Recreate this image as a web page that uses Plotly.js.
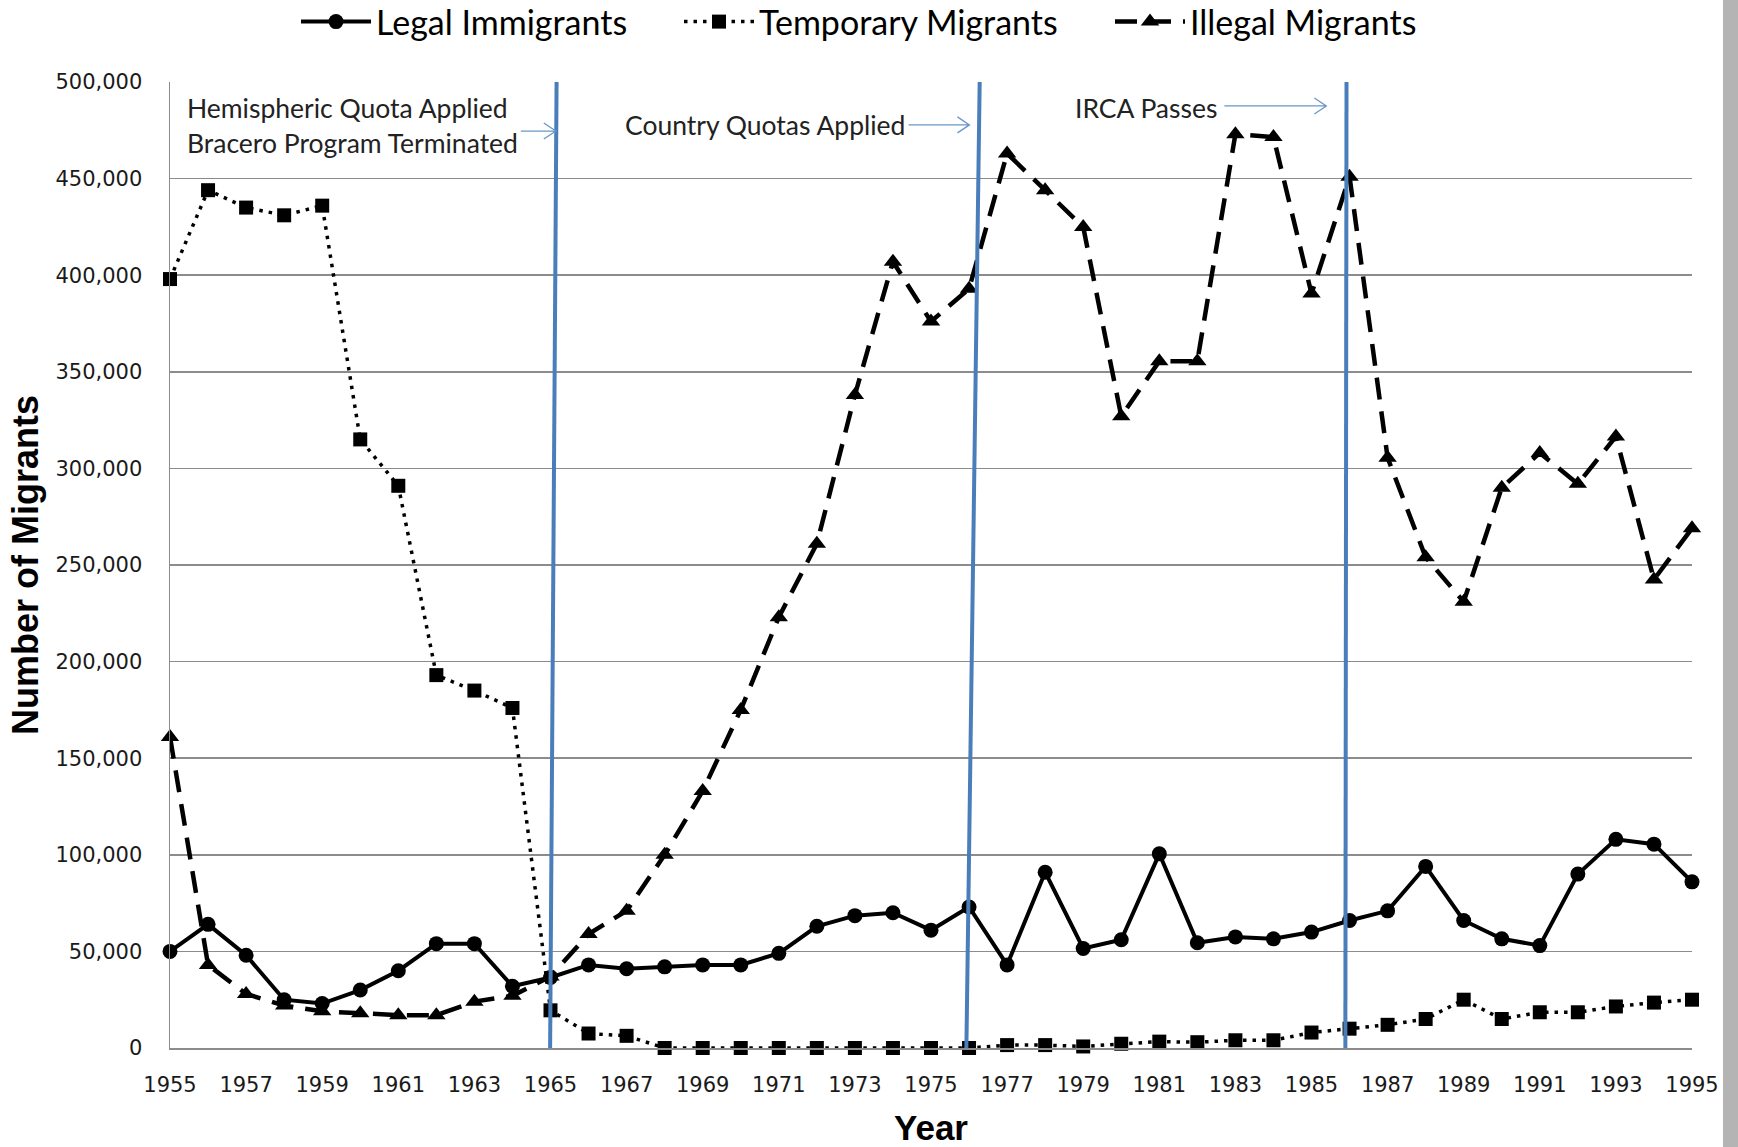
<!DOCTYPE html>
<html>
<head>
<meta charset="utf-8">
<script src="https://cdn.plot.ly/plotly-3.0.1.min.js"></script>
<style>html,body{margin:0;padding:0;background:#fff;}#chart{width:1738px;height:1147px;}</style>
</head>
<body>
<div id="chart"></div>
<script>
const years = [1955,1956,1957,1958,1959,1960,1961,1962,1963,1964,1965,1966,1967,1968,1969,1970,1971,1972,1973,1974,1975,1976,1977,1978,1979,1980,1981,1982,1983,1984,1985,1986,1987,1988,1989,1990,1991,1992,1993,1994,1995];
const legalImmigrants = [50000,64000,48000,25000,23000,30000,40000,54000,54000,32000,36500,43000,41000,42000,43000,43000,49000,63000,68500,70000,61000,73000,43000,91000,51500,56000,100500,54500,57500,56500,60000,66000,71000,94000,66000,56500,53000,90000,108000,105500,86000];
const temporaryMigrants = [398000,444000,435000,431000,436000,315000,291000,193000,185000,176000,19500,7500,6300,0,0,0,0,0,0,0,0,0,1500,1500,800,2200,3300,3000,4000,4000,8000,10000,12000,15000,25000,15000,18500,18500,21500,23500,25000];
const illegalMigrants = [161000,43000,28000,22000,19000,18000,17000,17000,24000,27000,37000,59000,71000,100000,133000,175000,223000,261000,338000,407000,376000,393000,463000,444000,425000,327000,355500,355500,473000,471500,390500,451000,305500,254000,231000,290000,308000,292000,316500,242500,269000];
const xTickVals = [1955,1957,1959,1961,1963,1965,1967,1969,1971,1973,1975,1977,1979,1981,1983,1985,1987,1989,1991,1993,1995];
const yTickVals = [0,50000,100000,150000,200000,250000,300000,350000,400000,450000,500000];

// events (policy lines) and annotation labels
const eventLines = [
  {xBottom: 1964.99, xTop: 1965.16},
  {xBottom: 1975.93, xTop: 1976.28},
  {xBottom: 1985.89, xTop: 1985.92}
];
const eventLabels = [
  {text: 'Hemispheric Quota Applied', x: 1955.39, y: 486800},
  {text: 'Bracero Program Terminated', x: 1955.39, y: 468400},
  {text: 'Country Quotas Applied', x: 1966.9, y: 477800},
  {text: 'IRCA Passes', x: 1978.72, y: 486800}
];
const eventArrows = [
  {x0: 1964.22, x1: 1965.14, y: 474600},
  {x0: 1974.41, x1: 1976.01, y: 477800},
  {x0: 1982.71, x1: 1985.39, y: 487600}
];

const W = 1738, H = 1147;
const M = {l: 170, r: 46, t: 82, b: 99, autoexpand: false};
const plotW = W - M.l - M.r, plotH = H - M.t - M.b;
const yrPerPx = 40 / plotW, valPerPx = 500000 / plotH;

const blue = '#4a7ebb';
const shapes = [];
eventLines.forEach(e => shapes.push({type:'line', xref:'x', yref:'y', x0:e.xBottom, y0:0, x1:e.xTop, y1:501000, line:{color:blue, width:4}}));
eventArrows.forEach(a => {
  const dx = 12 * yrPerPx, dy = 8 * valPerPx;
  shapes.push({type:'path', xref:'x', yref:'y',
    path: `M${a.x0},${a.y} L${a.x1},${a.y} M${a.x1-dx},${a.y+dy} L${a.x1},${a.y} L${a.x1-dx},${a.y-dy}`,
    line:{color:'#6a96c8', width:1.3}});
});
// grey strip at right edge
shapes.push({type:'rect', xref:'paper', yref:'paper', x0:(1723-M.l)/plotW, x1:(1740-M.l)/plotW, y0:-0.2, y1:1.2, fillcolor:'#b4b4b4', line:{width:0}, layer:'above'});

const annotations = eventLabels.map(l => ({text:l.text, x:l.x, y:l.y, xref:'x', yref:'y', xanchor:'left', yanchor:'middle', showarrow:false, font:{family:'Lato', size:26.5, color:'#222'}}));

const traces = [
  {x: years, y: legalImmigrants, name: 'Legal Immigrants', type:'scatter', mode:'lines+markers', cliponaxis:false,
   line:{color:'#000', width:4}, marker:{symbol:'circle', size:15, color:'#000'}, legend:'legend'},
  {x: years, y: temporaryMigrants, name: 'Temporary Migrants', type:'scatter', mode:'lines+markers', cliponaxis:false,
   line:{color:'#000', width:3.5, dash:'3.5px,6px'}, marker:{symbol:'square', size:14, color:'#000'}, legend:'legend2'},
  {x: years, y: illegalMigrants, name: 'Illegal Migrants', type:'scatter', mode:'lines+markers', cliponaxis:false,
   line:{color:'#000', width:4.5, dash:'22px,12px'}, marker:{symbol:'triangle-up', size:16, color:'#000'}, legend:'legend3'}
];

function legendAt(px) {
  return {x:(px - M.l)/plotW, xanchor:'left', y:(H - M.b - 22)/plotH, yanchor:'middle', orientation:'h',
    itemwidth:70, font:{family:'Lato', size:34, color:'#000'}, bgcolor:'rgba(0,0,0,0)', borderwidth:0};
}

const layout = {
  width: W, height: H,
  margin: M,
  paper_bgcolor:'#fff', plot_bgcolor:'#fff',
  showlegend: true,
  legend: legendAt(296), legend2: legendAt(679), legend3: legendAt(1110),
  xaxis: {range:[1955,1995], tickvals:xTickVals, ticktext:xTickVals.map(String), showgrid:false, zeroline:false,
    showline:true, linecolor:'#8c8c8c', linewidth:1.5, ticks:'', ticklabelstandoff:17,
    tickfont:{family:'DejaVu Sans', size:21, color:'#1a1a1a'},
    title:{text:'<b>Year</b>', font:{family:'Liberation Sans', size:35, color:'#000'}, standoff:23}},
  yaxis: {range:[0,500000], tickvals:yTickVals, tickformat:',d', showgrid:true, gridcolor:'#8c8c8c', gridwidth:1.5,
    zeroline:false, showline:true, linecolor:'#8c8c8c', linewidth:1.5, ticks:'', ticklabelstandoff:22,
    tickfont:{family:'DejaVu Sans', size:21, color:'#1a1a1a'},
    title:{text:'<b>Number of Migrants</b>', font:{family:'Liberation Sans', size:36, color:'#000'}, standoff:6}},
  shapes: shapes,
  annotations: annotations
};

Plotly.newPlot('chart', traces, layout, {displayModeBar:false, staticPlot:true});
</script>
</body>
</html>
